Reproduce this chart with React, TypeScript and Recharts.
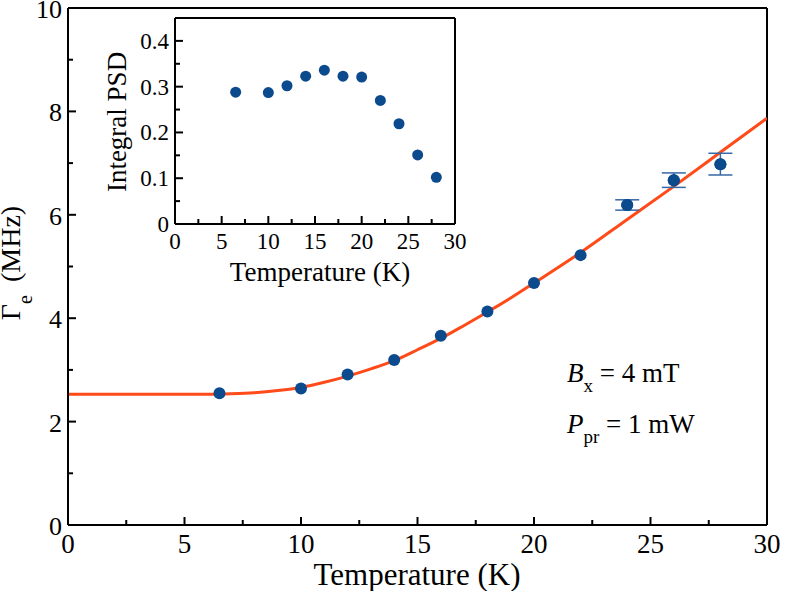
import React from "react";
import {
  ComposedChart,
  ScatterChart,
  Scatter,
  Line,
  XAxis,
  YAxis,
  ErrorBar,
  ReferenceLine,
} from "recharts";

// main panel: linewidth vs temperature
const temps = [6.5, 10, 12, 14, 16, 18, 20, 22, 24, 26, 28];
const gamma = [2.55, 2.64, 2.91, 3.19, 3.66, 4.13, 4.68, 5.22, 6.19, 6.67, 6.98];
const gammaErr = [0, 0, 0, 0, 0, 0, 0, 0, 0.1, 0.14, 0.21];

// fitted curve
const fitT = [0, 2, 4, 6, 7, 8, 9, 10, 11, 12, 13, 14, 15, 16, 17, 18, 19, 20, 22, 24, 26, 28, 30];
const fitG = [2.53, 2.53, 2.53, 2.53, 2.54, 2.56, 2.6, 2.66, 2.76, 2.88, 3.02, 3.18, 3.39, 3.61, 3.86, 4.12, 4.39, 4.68, 5.27, 5.91, 6.55, 7.21, 7.87];

// inset: integral PSD
const insetT = [6.5, 10, 12, 14, 16, 18, 20, 22, 24, 26, 28];
const insetPsd = [0.288, 0.287, 0.302, 0.323, 0.336, 0.323, 0.321, 0.27, 0.219, 0.151, 0.102];

const xTicks = [0, 2.5, 5, 7.5, 10, 12.5, 15, 17.5, 20, 22.5, 25, 27.5, 30];
const yTicksMain = [0, 1, 2, 3, 4, 5, 6, 7, 8, 9, 10];
const yTicksInset = [0, 0.05, 0.1, 0.15, 0.2, 0.25, 0.3, 0.35, 0.4];

const FONT = "Liberation Serif, Tinos, Times New Roman, serif";
const DOT = "#0b4a8c";
const FIT = "#ff4a1a";

const mainData = temps.map((t, i) => ({ t, g: gamma[i], err: gammaErr[i] }));
const errData = mainData.filter((d) => d.err > 0);
const fitData = fitT.map((t, i) => ({ t, g: fitG[i] }));
const insetData = insetT.map((t, i) => ({ t, p: insetPsd[i] }));

const XTick = (props: any) => {
  const { x, y, payload, fs, dy } = props;
  const v = payload.value;
  const major = v % 5 === 0;
  return (
    <g>
      <line x1={x} x2={x} y1={y} y2={y - (major ? 8 : 5)} stroke="#000" strokeWidth={2} />
      {major && (
        <text x={x} y={y + dy} textAnchor="middle" fontSize={fs} fontFamily={FONT} fill="#000">
          {v}
        </text>
      )}
    </g>
  );
};

const YTickMain = (props: any) => {
  const { x, y, payload } = props;
  const v = payload.value;
  const major = v % 2 === 0;
  return (
    <g>
      <line x1={x} x2={x + (major ? 8 : 5)} y1={y} y2={y} stroke="#000" strokeWidth={2} />
      {major && (
        <text x={x - 6} y={y + 10} textAnchor="end" fontSize={26} fontFamily={FONT} fill="#000">
          {v}
        </text>
      )}
    </g>
  );
};

const YTickInset = (props: any) => {
  const { x, y, payload } = props;
  const v = payload.value;
  const major = Math.round(v * 100) % 10 === 0;
  return (
    <g>
      <line x1={x} x2={x + (major ? 8 : 5)} y1={y} y2={y} stroke="#000" strokeWidth={2} />
      {major && (
        <text x={x - 6} y={y + 8} textAnchor="end" fontSize={23} fontFamily={FONT} fill="#000">
          {v === 0 ? "0" : v.toFixed(1)}
        </text>
      )}
    </g>
  );
};

const axisLine = { stroke: "#000", strokeWidth: 2 };
const dotShape = (r: number) => (p: any) => <circle cx={p.cx} cy={p.cy} r={r} fill={DOT} />;

export default function App() {
  return (
    <div style={{ position: "absolute", left: 0, top: 0, width: 789, height: 591, background: "#fff" }}>
      <div style={{ position: "absolute", left: 0, top: 0 }}>
        <ComposedChart width={789} height={591} margin={{ top: 8, right: 22, left: 0, bottom: 0 }}>
          <XAxis
            dataKey="t"
            type="number"
            domain={[0, 30]}
            ticks={xTicks}
            interval={0}
            tickSize={0}
            tickMargin={0}
            tickLine={false}
            axisLine={axisLine}
            height={66}
            tick={<XTick fs={27} dy={28} />}
            allowDataOverflow
          />
          <YAxis
            type="number"
            domain={[0, 10]}
            ticks={yTicksMain}
            interval={0}
            tickSize={0}
            tickMargin={0}
            tickLine={false}
            axisLine={axisLine}
            width={68}
            tick={<YTickMain />}
            allowDataOverflow
          />
          <ReferenceLine y={10} stroke="#000" strokeWidth={2} />
          <ReferenceLine x={30} stroke="#000" strokeWidth={2} />
          <Line
            data={fitData}
            dataKey="g"
            type="monotone"
            stroke={FIT}
            strokeWidth={3}
            dot={false}
            activeDot={false}
            isAnimationActive={false}
          />
          <Scatter data={errData} dataKey="g" fill={DOT} isAnimationActive={false} shape={dotShape(6)}>
            <ErrorBar dataKey="err" direction="y" width={12} stroke="#3568a6" strokeWidth={1.5} />
          </Scatter>
          <Scatter data={mainData} dataKey="g" fill={DOT} isAnimationActive={false} shape={dotShape(6)} />
        </ComposedChart>
      </div>

      <div style={{ position: "absolute", left: 100, top: 10 }}>
        <ScatterChart width={370} height={280} margin={{ top: 8, right: 15, left: 0, bottom: 0 }}>
          <XAxis
            dataKey="t"
            type="number"
            domain={[0, 30]}
            ticks={xTicks}
            interval={0}
            tickSize={0}
            tickMargin={0}
            tickLine={false}
            axisLine={axisLine}
            height={66}
            tick={<XTick fs={23} dy={25} />}
            allowDataOverflow
          />
          <YAxis
            dataKey="p"
            type="number"
            domain={[0, 0.45]}
            ticks={yTicksInset}
            interval={0}
            tickSize={0}
            tickMargin={0}
            tickLine={false}
            axisLine={axisLine}
            width={75}
            tick={<YTickInset />}
            allowDataOverflow
          />
          <ReferenceLine y={0.45} stroke="#000" strokeWidth={2} />
          <ReferenceLine x={30} stroke="#000" strokeWidth={2} />
          <Scatter data={insetData} fill={DOT} isAnimationActive={false} shape={dotShape(5.5)} />
        </ScatterChart>
      </div>

      <svg
        width={789}
        height={591}
        style={{ position: "absolute", left: 0, top: 0, pointerEvents: "none" }}
      >
        <text x={417} y={585} textAnchor="middle" fontSize={31} fontFamily={FONT} fill="#000">
          Temperature (K)
        </text>
        <text
          transform="translate(20,263) rotate(-90)"
          textAnchor="middle"
          fontSize={28}
          fontFamily={FONT}
          fill="#000"
        >
          Γ<tspan fontSize={20} dy={12}>e</tspan>
          <tspan dy={-12} dx={6}> (MHz)</tspan>
        </text>
        <text x={320} y={281} textAnchor="middle" fontSize={27} fontFamily={FONT} fill="#000">
          Temperature (K)
        </text>
        <text
          transform="translate(126,122) rotate(-90)"
          textAnchor="middle"
          fontSize={27}
          fontFamily={FONT}
          fill="#000"
        >
          Integral PSD
        </text>
        <text x={567} y={382} fontSize={27} fontFamily={FONT} fill="#000">
          <tspan fontStyle="italic">B</tspan>
          <tspan fontSize={19} dy={10}>x</tspan>
          <tspan dy={-10}> = 4 mT</tspan>
        </text>
        <text x={567} y={433} fontSize={27} fontFamily={FONT} fill="#000">
          <tspan fontStyle="italic">P</tspan>
          <tspan fontSize={19} dy={10}>pr</tspan>
          <tspan dy={-10}> = 1 mW</tspan>
        </text>
      </svg>
    </div>
  );
}
